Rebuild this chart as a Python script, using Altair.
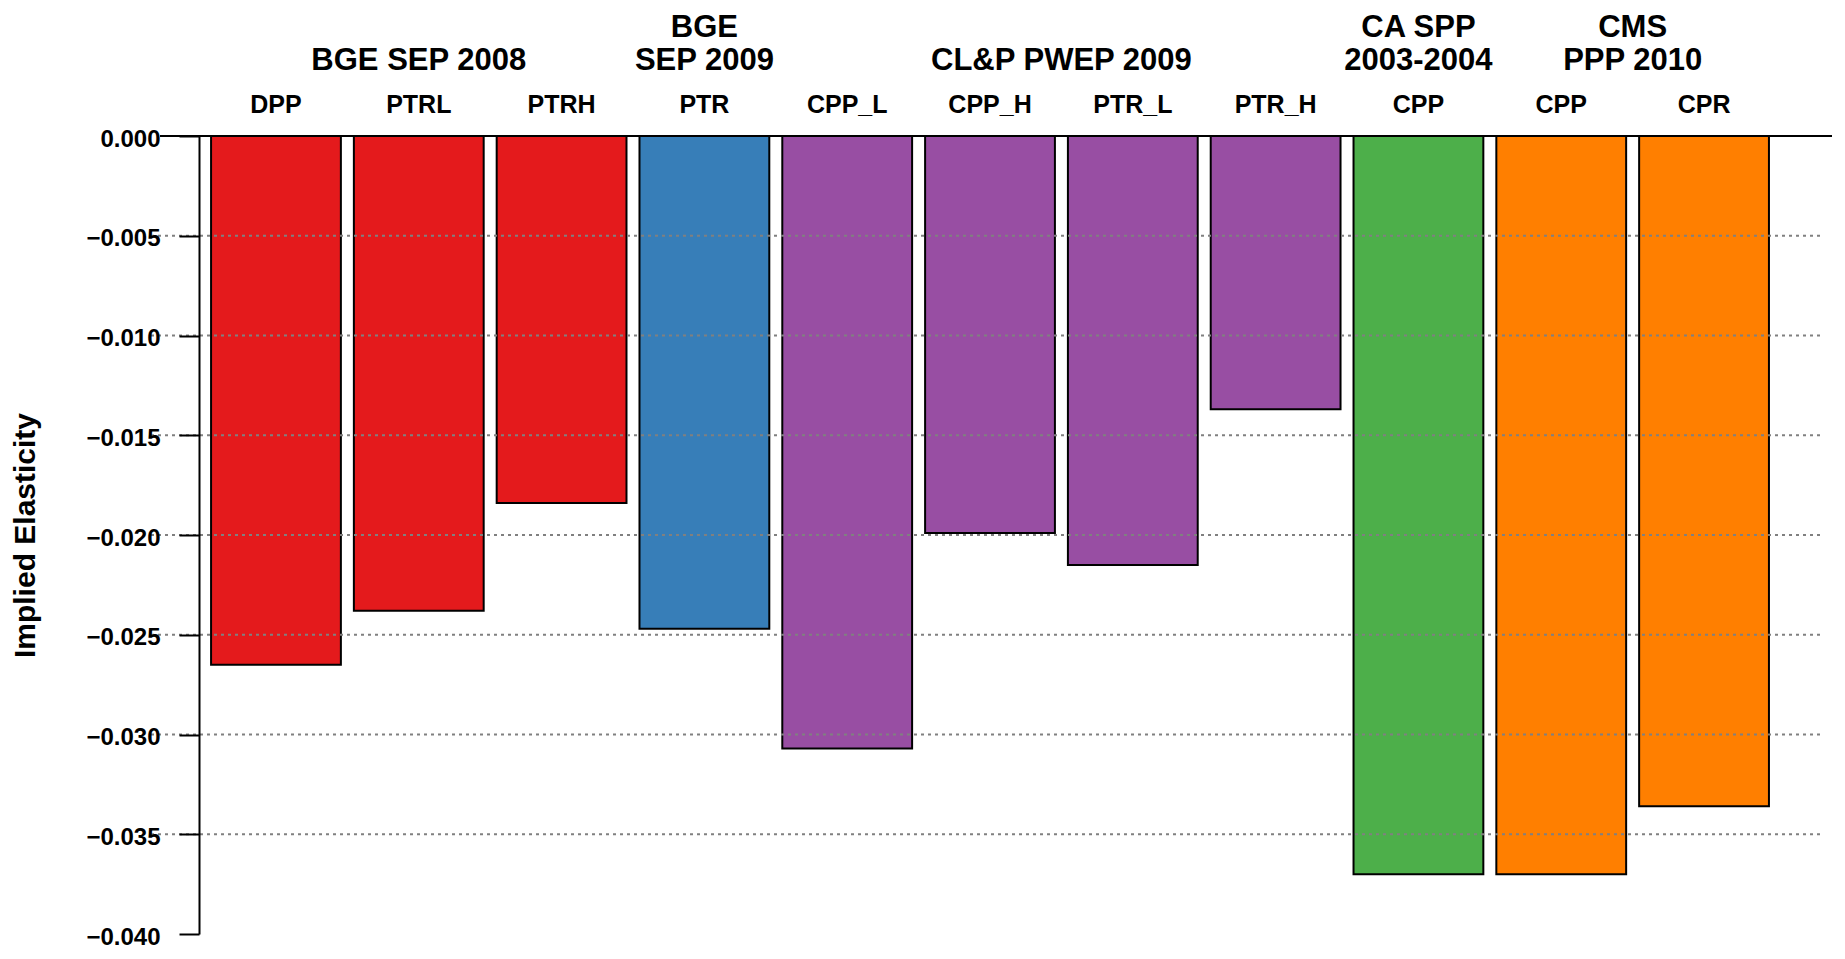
import altair as alt
import pandas as pd

# ---- data ----
categories = ["DPP", "PTRL", "PTRH", "PTR", "CPP_L", "CPP_H", "PTR_L", "PTR_H", "CPP", "CPP", "CPR"]
programs = (["BGE SEP 2008"] * 3 + ["BGE SEP 2009"] + ["CL&P PWEP 2009"] * 4
            + ["CA SPP 2003-2004"] + ["CMS PPP 2010"] * 2)
elasticity = [-0.0265, -0.0238, -0.0184, -0.0247, -0.0307, -0.0199,
              -0.0215, -0.0137, -0.0370, -0.0370, -0.0336]

program_names = ["BGE SEP 2008", "BGE SEP 2009", "CL&P PWEP 2009", "CA SPP 2003-2004", "CMS PPP 2010"]
program_line1 = ["", "BGE", "", "CA SPP", "CMS"]
program_line2 = ["BGE SEP 2008", "SEP 2009", "CL&P PWEP 2009", "2003-2004", "PPP 2010"]
program_colors = ["#E41A1C", "#377EB8", "#984EA3", "#4DAF4A", "#FF7F00"]

y_ticks = [0.0, -0.005, -0.010, -0.015, -0.020, -0.025, -0.030, -0.035, -0.040]
grid_vals = [-0.005, -0.010, -0.015, -0.020, -0.025, -0.030, -0.035]

# ---- tables ----
half = 0.4545  # half bar width in category units
bars = pd.DataFrame({
    "idx": list(range(len(categories))),
    "category": categories,
    "program": programs,
    "value": elasticity,
})
bars["x0"] = bars["idx"] - half
bars["x1"] = bars["idx"] + half

centers = bars.groupby("program")["idx"].mean()
groups = pd.DataFrame({
    "program": program_names,
    "line1": program_line1,
    "line2": program_line2,
})
groups["center"] = groups["program"].map(centers)

grid_df = pd.DataFrame({"g": grid_vals})
zero_df = pd.DataFrame({"g": [0.0]})

FONT = "Liberation Sans"
W, H = 1633, 798

xscale = alt.Scale(domain=[-0.539, 10.896], nice=False, zero=False)
yscale = alt.Scale(domain=[-0.04, 0.0], nice=False)

bar_layer = alt.Chart(bars).mark_bar(stroke="black", strokeWidth=2).encode(
    x=alt.X("x0:Q", scale=xscale, axis=None),
    x2="x1:Q",
    y=alt.Y("value:Q", scale=yscale,
            axis=alt.Axis(values=y_ticks, format=".3f", title="Implied Elasticity",
                          grid=False, domainColor="black", domainWidth=2,
                          tickColor="black", tickWidth=2, tickSize=20,
                          labelFont=FONT, labelFontWeight="bold", labelFontSize=24,
                          labelColor="black", labelPadding=19, labelOffset=3,
                          titleFont=FONT, titleFontWeight="bold", titleFontSize=30,
                          titleColor="black", titleX=-165, titleY=H / 2,
                          titleAngle=270, titleAlign="center",
                          titleBaseline="alphabetic", zindex=1)),
    y2=alt.datum(0),
    color=alt.Color("program:N", scale=alt.Scale(domain=program_names, range=program_colors),
                    legend=None),
)

grid_layer = alt.Chart(grid_df).mark_rule(color="#808080", strokeWidth=2, strokeDash=[3, 4]).encode(
    y=alt.Y("g:Q", scale=yscale),
    x=alt.value(-48),
    x2=alt.value(W - 8),
)

zero_layer = alt.Chart(zero_df).mark_rule(color="black", strokeWidth=2).encode(
    y=alt.Y("g:Q", scale=yscale),
    x=alt.value(-39),
    x2=alt.value(W),
)

cat_labels = alt.Chart(bars).mark_text(
    font=FONT, fontWeight="bold", fontSize=25, color="black",
    baseline="alphabetic", align="center",
).encode(
    x=alt.X("idx:Q", scale=xscale),
    y=alt.value(-23),
    text="category:N",
)

g1 = alt.Chart(groups).mark_text(
    font=FONT, fontWeight="bold", fontSize=31, color="black",
    baseline="alphabetic", align="center",
).encode(
    x=alt.X("center:Q", scale=xscale),
    y=alt.value(-99),
    text="line1:N",
)

g2 = alt.Chart(groups).mark_text(
    font=FONT, fontWeight="bold", fontSize=31, color="black",
    baseline="alphabetic", align="center",
).encode(
    x=alt.X("center:Q", scale=xscale),
    y=alt.value(-66),
    text="line2:N",
)

chart = alt.layer(bar_layer, grid_layer, zero_layer, cat_labels, g1, g2).properties(
    width=W, height=H,
    autosize=alt.AutoSizeParams(type="none"),
    padding={"left": 191, "top": 128, "right": 4, "bottom": 17},
    background="white",
).configure_view(stroke=None)

chart.save("out.html", embed_options={"renderer": "svg", "actions": False})
